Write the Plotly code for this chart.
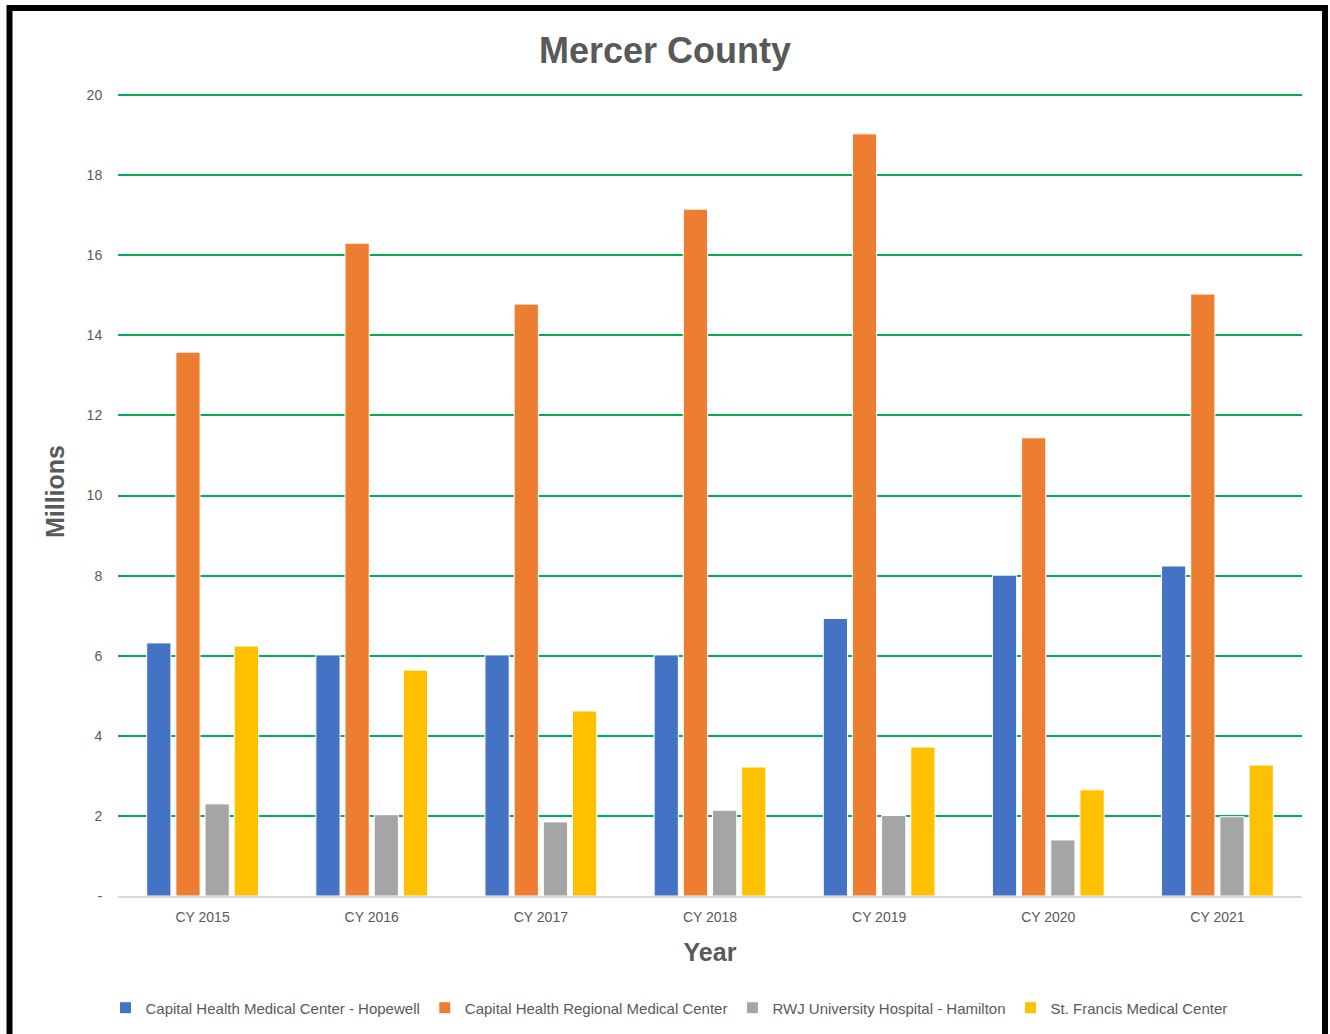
import plotly.graph_objects as go

years = ["CY 2015", "CY 2016", "CY 2017", "CY 2018", "CY 2019", "CY 2020", "CY 2021"]
hopewell = [6.32, 6.02, 6.02, 6.02, 6.93, 8.01, 8.24]
regional = [13.58, 16.30, 14.78, 17.15, 19.03, 11.44, 15.03]
rwj_hamilton = [2.30, 2.03, 1.85, 2.14, 2.01, 1.40, 1.98]
st_francis = [6.24, 5.64, 4.62, 3.22, 3.72, 2.65, 3.27]

series_names = [
    "Capital Health Medical Center - Hopewell",
    "Capital Health Regional Medical Center",
    "RWJ University Hospital - Hamilton",
    "St. Francis Medical Center",
]
series_values = [hopewell, regional, rwj_hamilton, st_francis]
colors = ["#4472C4", "#ED7D31", "#A5A5A5", "#FFC000"]

y_tickvals = [0, 2, 4, 6, 8, 10, 12, 14, 16, 18, 20]
y_ticktext = ["-", "2", "4", "6", "8", "10", "12", "14", "16", "18", "20"]

W, H = 1330, 1034
YMAX = 20.2
bottom_px, top20_px = 896, 95
px_per_unit = (bottom_px - top20_px) / 20.0
top_px = bottom_px - YMAX * px_per_unit
L, R = 118, 28
T = top_px
B = H - bottom_px
pw, ph = W - L - R, bottom_px - top_px

fig = go.Figure()
for name, vals, col in zip(series_names, series_values, colors):
    fig.add_trace(go.Bar(
        x=years, y=vals, name=name,
        marker=dict(color=col, line=dict(color="white", width=1)),
    ))

def px_to_paper_x(px):
    return (px - L) / pw

def px_to_paper_y(py):
    return (bottom_px - py) / ph

fig.update_layout(
    width=W, height=H,
    margin=dict(l=L, r=R, t=T, b=B, pad=0, autoexpand=False),
    paper_bgcolor="white", plot_bgcolor="white",
    barmode="group", bargap=0.31, bargroupgap=0.17,
    font=dict(family="Liberation Sans, Arial, sans-serif", color="#595959"),
    title=dict(
        text="<b>Mercer County</b>",
        x=0.5, xanchor="center", xref="container",
        y=1 - 50 / H, yanchor="middle", yref="container",
        font=dict(size=36, color="#595959", family="Liberation Sans, Arial, sans-serif"),
    ),
    xaxis=dict(
        title=dict(text="<b>Year</b>", font=dict(size=25, color="#595959"), standoff=20),
        tickfont=dict(size=14, color="#595959"),
        showgrid=False,
        showline=True, linecolor="#D9D9D9", linewidth=2,
        ticks="outside", ticklen=7, tickcolor="rgba(0,0,0,0)",
    ),
    yaxis=dict(
        title=dict(text="<b>Millions</b>", font=dict(size=25, color="#595959"), standoff=14),
        range=[0, YMAX],
        tickvals=y_tickvals, ticktext=y_ticktext,
        tickfont=dict(size=14, color="#595959"),
        showgrid=True, gridcolor="#00B050", gridwidth=2,
        zeroline=False, showline=False,
        ticks="outside", ticklen=12, tickcolor="rgba(0,0,0,0)",
    ),
    legend=dict(
        orientation="h", x=px_to_paper_x(669), xanchor="center",
        y=px_to_paper_y(1008), yanchor="middle",
        font=dict(size=15, color="#595959"),
        traceorder="normal", itemwidth=30,
    ),
    shapes=[dict(
        type="rect", xref="paper", yref="paper",
        x0=px_to_paper_x(9.5), x1=px_to_paper_x(1325),
        y0=px_to_paper_y(1060), y1=px_to_paper_y(8),
        line=dict(color="black", width=6),
        fillcolor="rgba(0,0,0,0)", layer="above",
    )],
)

fig.write_html("out.html", config={"displayModeBar": False},
               post_script="document.body.style.margin='0';")
